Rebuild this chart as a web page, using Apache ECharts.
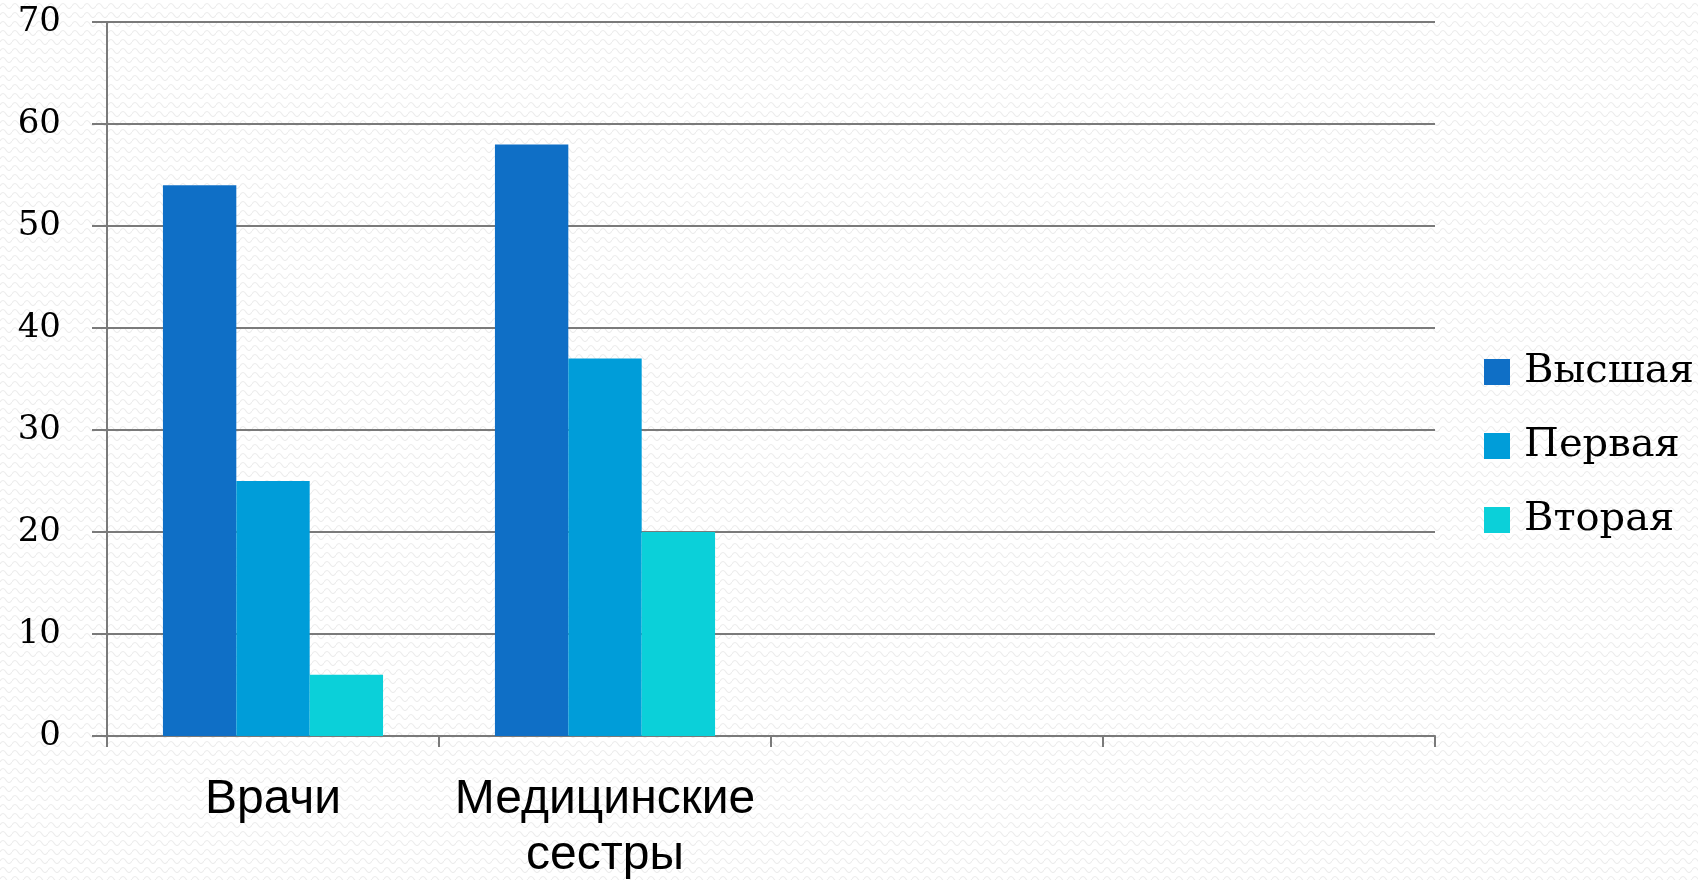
<!DOCTYPE html>
<html>
<head>
<meta charset="utf-8">
<script src="https://cdn.jsdelivr.net/npm/echarts@6/dist/echarts.min.js"></script>
<style>
html,body{margin:0;padding:0;background:#fff;}
#chart{width:1698px;height:880px;}
</style>
</head>
<body>
<div id="chart"></div>
<script>
const categories = ['Врачи', 'Медицинские\nсестры', '', ''];
const seriesNames = ['Высшая', 'Первая', 'Вторая'];
const highest = [54, 58];
const first = [25, 37];
const second = [6, 20];
const yTicks = { min: 0, max: 70, interval: 10 };
const colors = ['#0F6FC6', '#009DD9', '#0BD0D9'];

// subtle wavy background texture
const pat = document.createElement('canvas');
pat.width = 12; pat.height = 9;
const pc = pat.getContext('2d');
pc.fillStyle = '#ffffff'; pc.fillRect(0, 0, 12, 9);
pc.strokeStyle = '#ececec'; pc.lineWidth = 1.2;
pc.beginPath();
pc.moveTo(0, 6); pc.quadraticCurveTo(3, 1, 6, 6); pc.quadraticCurveTo(9, 11, 12, 6);
pc.stroke();

const chart = echarts.init(document.getElementById('chart'), null, { renderer: 'canvas' });
const axisColor = '#7a7a7a';
chart.setOption({
  backgroundColor: { image: pat, repeat: 'repeat' },
  animation: false,
  grid: { left: 107, right: 263, top: 22, bottom: 144, containLabel: false, outerBoundsMode: 'none' },
  legend: {
    orient: 'vertical',
    left: 1479,
    top: 346,
    itemWidth: 26,
    itemHeight: 26,
    itemGap: 32,
    icon: 'rect',
    textStyle: { fontFamily: 'DejaVu Serif', fontSize: 40, color: '#000', lineHeight: 42, padding: [0, 0, 0, 9] },
    data: seriesNames
  },
  xAxis: {
    type: 'category',
    data: categories,
    axisLine: { show: true, lineStyle: { color: axisColor, width: 2 } },
    axisTick: { show: true, length: 11, alignWithLabel: false, lineStyle: { color: axisColor, width: 2 } },
    axisLabel: { interval: 0, margin: 36, fontFamily: 'Liberation Sans', fontSize: 48, lineHeight: 56, color: '#000', align: 'center' },
    splitLine: { show: false }
  },
  yAxis: {
    type: 'value',
    min: yTicks.min, max: yTicks.max, interval: yTicks.interval,
    axisLine: { show: true, lineStyle: { color: axisColor, width: 2 } },
    axisTick: { show: true, length: 15, lineStyle: { color: axisColor, width: 2 } },
    axisLabel: { margin: 46, fontFamily: 'DejaVu Serif', fontSize: 34, color: '#000' },
    splitLine: { show: true, lineStyle: { color: axisColor, width: 2 } }
  },
  series: [
    { name: seriesNames[0], type: 'bar', data: highest, itemStyle: { color: colors[0] }, barGap: '0%', barCategoryGap: '33.7%' },
    { name: seriesNames[1], type: 'bar', data: first, itemStyle: { color: colors[1] }, barGap: '0%', barCategoryGap: '33.7%' },
    { name: seriesNames[2], type: 'bar', data: second, itemStyle: { color: colors[2] }, barGap: '0%', barCategoryGap: '33.7%' }
  ]
});
</script>
</body>
</html>
